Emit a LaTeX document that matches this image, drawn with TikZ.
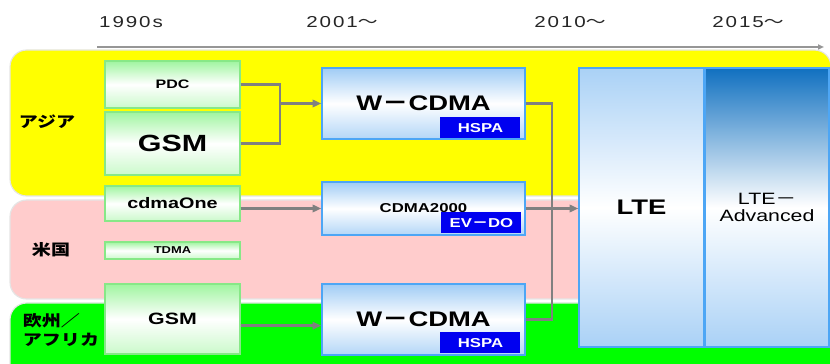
\documentclass[tikz,border=0pt]{standalone}
\usepackage{fontspec}
\setmainfont[FakeStretch=1.3]{Liberation Sans}
\newfontfamily\jp[FakeStretch=1.25]{Noto Sans CJK JP}
\newfontfamily\yearfont[FakeStretch=1.3,LetterSpace=12]{Liberation Sans}
\usetikzlibrary{arrows.meta,positioning,calc}
\definecolor{AsiaYellow}{RGB}{255,255,0}
\definecolor{UsPink}{RGB}{255,204,204}
\definecolor{EuGreen}{RGB}{0,255,0}
\definecolor{OldGreen}{RGB}{160,245,160}
\definecolor{OldEdge}{RGB}{135,232,135}
\definecolor{NewBlue}{RGB}{160,204,245}
\definecolor{NewEdge}{RGB}{77,166,245}
\definecolor{TagBlue}{RGB}{0,0,240}
\definecolor{LinkGray}{RGB}{128,128,128}
\definecolor{AxisGray}{RGB}{150,150,150}
\definecolor{AdvBlue}{RGB}{16,112,192}
\tikzset{
  gen/region/.style={rounded corners=5mm, draw=black!10, line width=1pt},
  gen/area/.style={font=\jp\bfseries\fontsize{13}{17}\selectfont, align=left, inner sep=0pt},
  gen/year/.style={font=\yearfont\fontsize{13.5}{15}\selectfont, text=black!85, inner sep=0pt},
  gen/old/.style={
    draw=OldEdge,
    line width=1.2pt,
    top color=OldGreen,
    bottom color=OldGreen!55,
    middle color=white,
    align=center,
    inner sep=0pt,
    minimum width=4.05cm
  },
  gen/new/.style={
    draw=NewEdge,
    line width=1.2pt,
    top color=NewBlue,
    bottom color=NewBlue!80,
    middle color=white,
    align=center,
    inner sep=0pt,
    minimum width=6.09cm,
    minimum height=2.13cm
  },
  gen/tag/.style={
    fill=TagBlue,
    text=white,
    inner sep=0pt,
    minimum width=2.4cm,
    minimum height=0.63cm,
    font=\bfseries\fontsize{11}{13}\selectfont
  },
  gen/lte/.style={
    draw=NewEdge,
    line width=1.2pt,
    align=center,
    inner sep=0pt,
    minimum height=8.37cm
  },
  gen/link/.style={draw=LinkGray, line width=2pt},
  gen/arrow/.style={-{Triangle[length=2.6mm,width=2.2mm]}, draw=LinkGray, line width=2pt},
  gen/axis/.style={-{Triangle[length=1.8mm,width=1.5mm]}, draw=AxisGray, line width=1.6pt}
}
\begin{document}
\begin{tikzpicture}[x=0.3mm,y=0.3mm]
  \useasboundingbox (0,0) rectangle (830,363);
  % regions
  \path[gen/region, fill=AsiaYellow] (10,167) rectangle (831,313);
  \path[gen/region, fill=UsPink] (10,64) rectangle (831,163);
  \path[gen/region, fill=EuGreen] (10,-20) rectangle (831,60);
  \node[gen/area] (asia) at (47,241) {アジア};
  \node[gen/area] (usa) at (51,113) {米国};
  \node[gen/area] (eu) at (61,33) {欧州／\\アフリカ};
  % time axis
  \node[gen/year] (y1990) at (131,341) {1990s};
  \node[gen/year] (y2001) at (342,341) {2001{\jp ～}};
  \node[gen/year] (y2010) at (570,341) {2010{\jp ～}};
  \node[gen/year] (y2015) at (748,341) {2015{\jp ～}};
  \coordinate (axisL) at (97,316);
  \coordinate (axisR) at (824,316);
  \draw[gen/axis] (axisL) -- (axisR);
  % 1990s
  \node[gen/old, minimum height=1.41cm, font=\bfseries\fontsize{10.5}{12}\selectfont] (pdc) at (172.5,278.5) {PDC};
  \node[gen/old, minimum height=1.89cm, font=\bfseries\fontsize{20}{22}\selectfont] (gsmA) at (172.5,219.5) {GSM};
  \node[gen/old, minimum height=1.05cm, font=\bfseries\fontsize{13}{15}\selectfont] (cdmaone) at (172.5,159.5) {cdmaOne};
  \node[gen/old, minimum height=0.51cm, font=\bfseries\fontsize{8.5}{10}\selectfont] (tdma) at (172.5,112.5) {TDMA};
  \node[gen/old, minimum height=2.1cm, font=\bfseries\fontsize{14}{16}\selectfont] (gsmE) at (172.5,44) {GSM};
  % 2001~
  \node[gen/new, font=\bfseries\fontsize{18}{20}\selectfont] (wcdmaA) at (423.5,259.5) {W{\jp －}CDMA};
  \node[gen/new, minimum height=1.59cm, font=\bfseries\fontsize{11}{13}\selectfont] (cdma) at (423.5,154.5) {CDMA2000};
  \node[gen/new, font=\bfseries\fontsize{18}{20}\selectfont] (wcdmaE) at (423.5,43.5) {W{\jp －}CDMA};
  \node[gen/tag, anchor=south east] (hspaA) at ([xshift=-1.5mm,yshift=0.4mm]wcdmaA.south east) {HSPA};
  \node[gen/tag, anchor=south east] (evdo) at ([xshift=-1.2mm,yshift=0.6mm]cdma.south east) {EV{\jp －}DO};
  \node[gen/tag, anchor=south east] (hspaE) at ([xshift=-1.5mm,yshift=0.6mm]wcdmaE.south east) {HSPA};
  % 2010~ / 2015~
  \node[gen/lte, minimum width=3.75cm, top color=NewBlue!90, bottom color=NewBlue!90, middle color=white, font=\bfseries\fontsize{18}{20}\selectfont] (lte) at (641.5,155.5) {LTE};
  \node[gen/lte, minimum width=3.72cm, top color=AdvBlue, bottom color=NewBlue!90, middle color=white, font=\fontsize{14}{15}\selectfont] (ltea) at (767,155.5) {LTE{\jp －}\\Advanced};
  % connectors
  \coordinate (joinA) at ([xshift=-12.3mm]wcdmaA.west);
  \draw[gen/link] (pdc.east) -| (joinA);
  \draw[gen/link] (gsmA.east) -| (joinA);
  \draw[gen/arrow] (joinA) -- (wcdmaA.west);
  \draw[gen/arrow] (cdmaone.east |- cdma.west) -- (cdma.west);
  \coordinate (gsmOut) at ([yshift=-2mm]gsmE.east);
  \draw[gen/arrow] (gsmOut) -- (gsmOut -| wcdmaE.west);
  \coordinate (joinL) at ([xshift=7.8mm]cdma.east);
  \draw[gen/link] (wcdmaA.east) -| (joinL);
  \draw[gen/link] (wcdmaE.east) -| (joinL);
  \draw[gen/arrow] (cdma.east) -- (cdma.east -| lte.west);
\end{tikzpicture}
\end{document}
